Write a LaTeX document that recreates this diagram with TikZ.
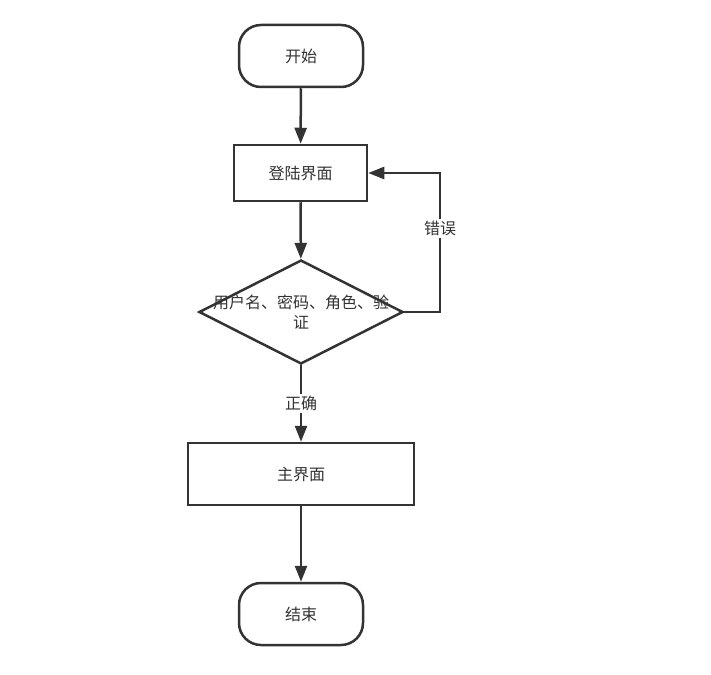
\documentclass[tikz,border=0pt]{standalone}
\usepackage{fontspec}
\newfontfamily\cjk{Noto Sans CJK SC}
\usetikzlibrary{arrows.meta,shapes.geometric}
\definecolor{ln}{HTML}{333333}
\tikzset{
  every node/.style={font=\cjk\fontsize{16}{20}\selectfont, text=ln},
  term/.style={draw=ln, line width=2.5pt, rounded corners=22pt, minimum width=124pt, minimum height=62pt, inner sep=0pt},
  procbox/.style={draw=ln, line width=2.5pt, inner sep=0pt},
  decide/.style={draw=ln, line width=2.5pt, diamond, minimum width=204pt, minimum height=104pt, inner sep=0pt, align=center},
  conn/.style={draw=ln, line width=2.5pt, -{Triangle[width=12pt,length=16pt]}},
  lab/.style={fill=white, inner sep=2pt}
}
\begin{document}
\begin{tikzpicture}[x=1pt,y=-1pt]
\useasboundingbox[fill=white] (0,0) rectangle (711,674);
\node[term] (start) at (301,56) {开始};
\node[procbox, minimum width=133pt, minimum height=56pt] (login) at (300.5,173) {登陆界面};
\node[decide] (check) at (301,312) {};
\node[align=center, font=\cjk\fontsize{16}{20}\selectfont] (checktext) at (301,312) {用户名、密码、角色、验\\证};
\node[procbox, minimum width=226pt, minimum height=62pt] (main) at (301,474) {主界面};
\node[term] (end) at (301,614) {结束};
\coordinate (c1) at (440,312);
\coordinate (c2) at (440,173);
\draw[conn] (start) -- (login);
\draw[conn] (login) -- (check);
\draw[conn] (check.south) -- node[lab] {正确} (main.north);
\draw[conn] (main) -- (end);
\draw[conn] (check.east) -- (c1) -- node[lab, pos=0.6] {错误} (c2) -- (login.east);
\end{tikzpicture}
\end{document}
